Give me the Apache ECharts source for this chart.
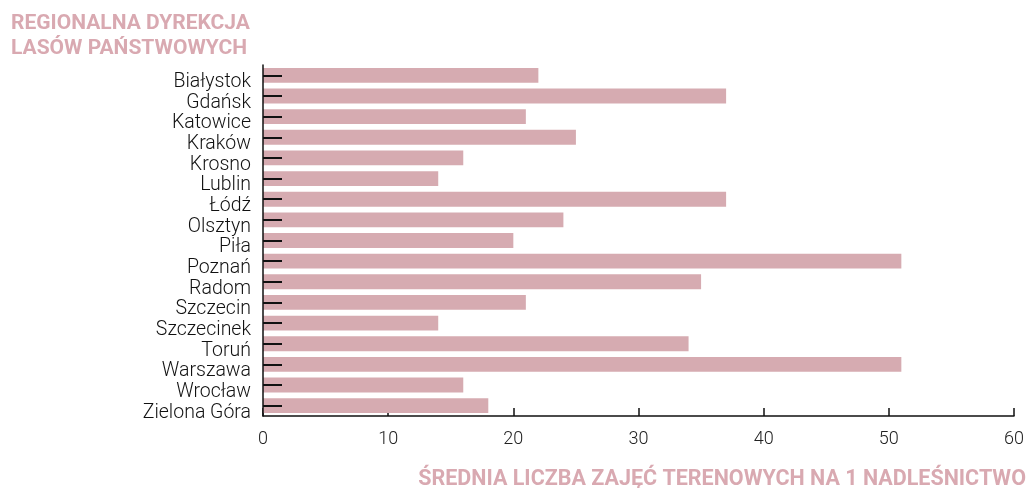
<!DOCTYPE html>
<html>
<head>
<meta charset="utf-8">
<script src="https://cdn.jsdelivr.net/npm/echarts@6/dist/echarts.min.js"></script>
<style>
  html, body { margin: 0; padding: 0; background: #fff; }
  #chart { width: 1028px; height: 488px; }
</style>
</head>
<body>
<div id="chart"></div>
<script>
const regions = ['Białystok', 'Gdańsk', 'Katowice', 'Kraków', 'Krosno', 'Lublin', 'Łódź', 'Olsztyn', 'Piła',
  'Poznań', 'Radom', 'Szczecin', 'Szczecinek', 'Toruń', 'Warszawa', 'Wrocław', 'Zielona Góra']
const avgFieldClasses = [22, 37, 21, 25, 16, 14, 37, 24, 20, 51, 35, 21, 14, 34, 51, 16, 18]

const pink = '#d6abb1'
const titlePink = '#d9a9b1'

const chart = echarts.init(document.getElementById('chart'))

const option = {
  animation: false,
  title: [
    {
      text: 'REGIONALNA DYREKCJA\nLASÓW PAŃSTWOWYCH',
      left: 6, top: 6,
      textStyle: { color: titlePink, fontFamily: 'Roboto', fontWeight: 'bold', fontSize: 21, lineHeight: 25 }
    },
    {
      text: 'ŚREDNIA LICZBA ZAJĘĆ TERENOWYCH NA 1 NADLEŚNICTWO',
      right: -3, top: 464,
      textStyle: { color: titlePink, fontFamily: 'Roboto', fontWeight: 'bold', fontSize: 21.5 }
    }
  ],
  grid: { left: 263, right: 14, top: 65, bottom: 72 },
  xAxis: {
    type: 'value',
    min: 0, max: 60, interval: 10,
    axisLine: { show: true, lineStyle: { color: '#111', width: 1.5 } },
    axisTick: { show: true, inside: true, length: 8, lineStyle: { color: '#111', width: 1.5 } },
    axisLabel: { color: '#222', fontFamily: 'Roboto', fontWeight: 300, fontSize: 18, margin: 14 },
    splitLine: { show: false }
  },
  yAxis: {
    type: 'category',
    data: regions,
    inverse: true,
    z: 5,
    axisLine: { show: true, lineStyle: { color: '#111', width: 1.5 } },
    axisTick: { show: true, inside: true, length: 19, alignWithLabel: true, lineStyle: { color: '#111', width: 2 } },
    axisLabel: {
      interval: 0, color: '#111', fontFamily: 'Roboto', fontWeight: 300, fontSize: 19.5, margin: 12,
      verticalAlign: 'top', lineHeight: 14
    }
  },
  series: [
    {
      type: 'bar',
      data: avgFieldClasses,
      barCategoryGap: '28%',
      itemStyle: { color: pink },
      z: 1
    }
  ]
}

chart.setOption(option)
</script>
</body>
</html>
